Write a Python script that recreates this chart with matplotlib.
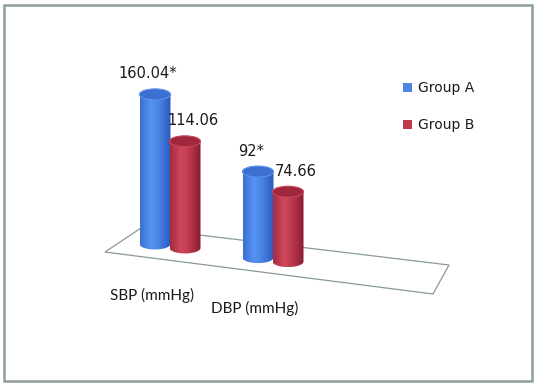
import numpy as np
import matplotlib
matplotlib.use("Agg")
import matplotlib.pyplot as plt
from matplotlib.patches import Polygon, Ellipse, FancyBboxPatch, Rectangle
from matplotlib.colors import to_rgb

# ---- data ----
categories = ["SBP (mmHg)", "DBP (mmHg)"]
series_names = ["Group A", "Group B"]
group_a = [160.04, 92]
group_b = [114.06, 74.66]
sig_a = [True, True]
sig_b = [False, False]

values = [group_a, group_b]
sigs = [sig_a, sig_b]

# ---- layout / style ----
W, H = 537, 385
fig = plt.figure(figsize=(W / 100, H / 100), dpi=100)
ax = fig.add_axes([0, 0, 1, 1])

X0, CAT_DX, SER_DX = 155, 103, 30
Y0, SLOPE, K = 244, 0.132, 0.935
BW, EH = 31, 11

colors = {
    0: dict(edge="#2858bb", mid="#5592f2", top="#3b6fd0", rim="#5b93ea", solid="#4a86e0"),
    1: dict(edge="#861a2f", mid="#d0465b", top="#a0263c", rim="#c8485c", solid="#c0394b"),
}


def project(i, j, v):
    cx = X0 + i * CAT_DX + j * SER_DX
    base = Y0 + (cx - X0) * SLOPE
    top = base - v * K
    return cx, base, top


def gradient(c):
    e = np.array(to_rgb(c["edge"]))
    m = np.array(to_rgb(c["mid"]))
    t = np.linspace(0, 1, 200)
    peak = 0.35
    f = np.where(t < peak, 1 - (peak - t) / peak * 0.6, 1 - ((t - peak) / (1 - peak)) ** 1.4)
    f = np.clip(f, 0, 1)[:, None]
    return (e + (m - e) * f)[None, :, :]


# floor
floor = Polygon([(141, 228), (449, 265), (433, 294), (105, 252)], closed=True,
                fill=False, edgecolor="#8a9a9a", lw=0.9, zorder=1)
ax.add_patch(floor)

z = 2
for i in range(len(categories)):
    for j in range(len(series_names)):
        v = values[j][i]
        cx, base, top = project(i, j, v)
        xl, xr = cx - BW / 2, cx + BW / 2
        c = colors[j]
        ang = np.linspace(0, np.pi, 60)
        arc_lr = np.column_stack([cx - BW / 2 * np.cos(ang), base + EH / 2 * np.sin(ang)])
        pts = np.vstack([[xl, top], [xl, base], arc_lr, [xr, base], [xr, top]])
        clip = Polygon(pts, closed=True, transform=ax.transData)
        im = ax.imshow(gradient(c), extent=[xl, xr, base + EH / 2 + 1, top],
                       aspect="auto", interpolation="bilinear", zorder=z)
        im.set_clip_path(clip)
        ax.add_patch(Ellipse((cx, top), BW, EH, facecolor=c["top"],
                             edgecolor=c["rim"], lw=0.8, zorder=z + 0.5))
        label = f"{v:g}" + ("*" if sigs[j][i] else "")
        dx = -7 if j == 0 else 8
        ax.text(cx + dx, top - EH / 2 - 15, label, ha="center", va="center",
                fontsize=10.5, family="DejaVu Sans", color="#1a1a1a", zorder=10)
        z += 1

# category labels
for i, cat in enumerate(categories):
    cx, base, _ = project(i, 0, 0)
    ax.text(cx - 3, base + 51, cat, ha="center", va="center", fontsize=11,
            family="Lato", color="#1a1a1a")

# legend
for j, name in enumerate(series_names):
    ly = 88 + j * 37
    ax.add_patch(Rectangle((403, ly - 5), 9, 9, facecolor=colors[j]["solid"],
                           edgecolor="none", zorder=5))
    ax.text(418, ly, name, ha="left", va="center", fontsize=10,
            family="DejaVu Sans", color="#1a1a1a")

ax.set_xlim(0, W)
ax.set_ylim(H, 0)
ax.axis("off")

fig.patches.append(FancyBboxPatch((4 / W, 4 / H), (W - 9) / W, (H - 9) / H,
                                  boxstyle="square,pad=0", transform=fig.transFigure,
                                  fill=False, edgecolor="#8c9e9e", lw=1.8))

fig.savefig("out.png", dpi=100, facecolor="white")
